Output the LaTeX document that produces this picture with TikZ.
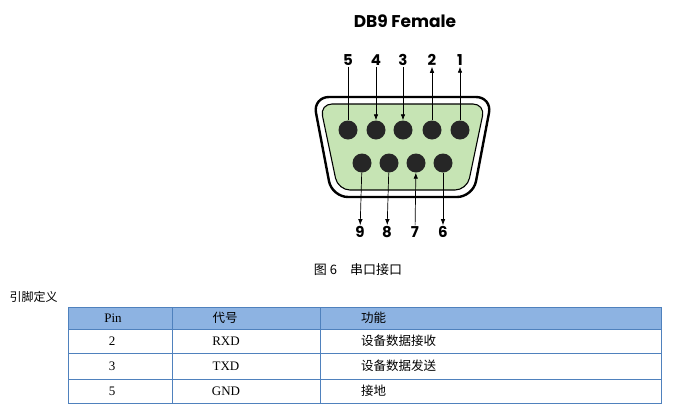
\documentclass[tikz,border=0pt]{standalone}
\usepackage{fontspec}
\setmainfont{Liberation Serif}
\newfontfamily\cjk{Noto Sans CJK SC}
\newfontfamily\titlefont{Poppins}
\definecolor{shellgreen}{RGB}{198,228,180}
\definecolor{headblue}{RGB}{141,179,226}
\definecolor{lineblue}{RGB}{79,129,189}
\tikzset{
  pin/.style={circle,fill=black!85,minimum size=19pt,inner sep=0pt},
  pinlabel/.style={font=\titlefont\bfseries\fontsize{15}{15}\selectfont,inner sep=1pt},
  lead/.style={line width=0.7pt,>={Latex[length=6pt,width=4.5pt]}},
  cell/.style={font=\fontsize{13}{14}\selectfont,inner sep=0pt}
}
\usetikzlibrary{arrows.meta}
\begin{document}
\begin{tikzpicture}[x=1pt,y=-1pt]
\useasboundingbox (0,0) rectangle (681,413);

\node[font=\titlefont\bfseries\fontsize{17}{17}\selectfont] (title) at (405,21) {DB9 Female};

% shell
\draw[line width=2.4pt,rounded corners=16pt] (313,97) -- (492,97) -- (473,197) -- (332,197) -- cycle;
\draw[line width=1.1pt,fill=shellgreen,rounded corners=12pt] (320,104) -- (485,104) -- (467,190) -- (338,190) -- cycle;

% pins, top row
\foreach \n/\x in {5/348,4/376,3/403,2/432,1/460}{
  \node[pin] (p\n) at (\x,130) {};
  \node[pinlabel] (l\n) at (\x,60) {\n};
}
% pins, bottom row
\foreach \n/\x/\lx in {9/362/360,8/389/387,7/416/415,6/443/443}{
  \node[pin] (p\n) at (\x,163) {};
  \node[pinlabel] (l\n) at (\lx,232) {\n};
}

\draw[lead] (l5) -- (p5);
\draw[lead,->] (l4) -- (p4);
\draw[lead,->] (l3) -- (p3);
\draw[lead,->] (p2) -- (l2);
\draw[lead,->] (p1) -- (l1);
\draw[lead,->] (p9) -- (l9);
\draw[lead,->] (p8) -- (l8);
\draw[lead,->] (l7) -- (p7);
\draw[lead,->] (p6) -- (l6);

\node[font=\cjk\fontsize{13}{14}\selectfont] (caption) at (358,270) {图 6\quad 串口接口};
\node[font=\cjk\fontsize{12}{14}\selectfont,anchor=west] (pindef) at (6,297) {引脚定义};

% table
\fill[headblue] (68,307) rectangle (661,329);
\draw[lineblue,line width=0.9pt] (68,307) rectangle (661,403);
\foreach \y in {329,353,379}{\draw[lineblue,line width=0.9pt] (68,\y) -- (661,\y);}
\foreach \x in {172,320}{\draw[lineblue,line width=0.9pt] (\x,307) -- (\x,403);}

\node[cell] (h1) at (113,318) {Pin};
\node[cell,font=\cjk\fontsize{12.5}{14}\selectfont] (h2) at (225,318) {代号};
\node[cell,font=\cjk\fontsize{12.5}{14}\selectfont,anchor=west] (h3) at (361,318) {功能};
\foreach \r/\y/\p/\c/\f in {a/341/2/RXD/设备数据接收,b/366/3/TXD/设备数据发送,c/391/5/GND/接地}{
  \node[cell] (pin\r) at (112,\y) {\p};
  \node[cell] (code\r) at (226,\y) {\c};
  \node[cell,font=\cjk\fontsize{12.5}{14}\selectfont,anchor=west] (fn\r) at (361,\y) {\f};
}
\end{tikzpicture}
\end{document}
